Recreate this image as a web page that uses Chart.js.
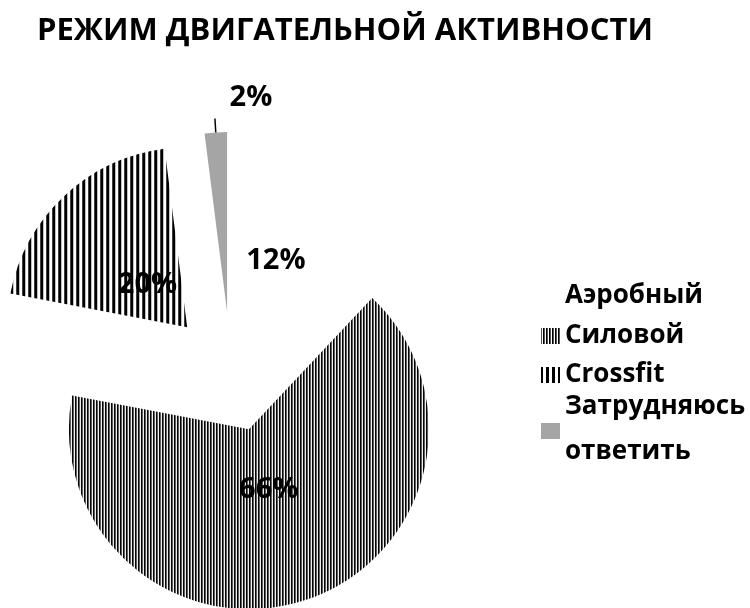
<!DOCTYPE html>
<html>
<head>
<meta charset="utf-8">
<script src="https://cdn.jsdelivr.net/npm/chart.js@4.4.0/dist/chart.umd.min.js"></script>
<style>
  html, body { margin: 0; padding: 0; background: #fff; }
</style>
</head>
<body>
<canvas id="chart" width="750" height="608"></canvas>
<script>
const titleText = 'РЕЖИМ ДВИГАТЕЛЬНОЙ АКТИВНОСТИ';
const categories = ['Аэробный', 'Силовой', 'Crossfit', 'Затрудняюсь ответить'];
const shares = [12, 66, 20, 2];

// stripe fills like the Excel pattern fills
const makeStripes = (period, parts) => {
  const c = document.createElement('canvas');
  c.width = period;
  c.height = 4;
  const g = c.getContext('2d');
  let x = 0;
  parts.forEach(([w, col]) => {
    g.fillStyle = col;
    g.fillRect(x, 0, w, 4);
    x += w;
  });
  return g.createPattern(c, 'repeat');
};
const ctx = document.getElementById('chart').getContext('2d');
const denseStripes = makeStripes(3, [[1, '#000'], [1, '#555'], [1, '#fff']]);
const wideStripes = makeStripes(6, [[3, '#000'], [3, '#fff']]);
const sliceColors = ['#ffffff', denseStripes, wideStripes, '#a5a5a5'];
// how far each slice is pulled out of the pie, px
const explode = [0, 58, 64, 62];

// chart.js' own offset also grows the radius, so pull slices out here instead
const explodedSlices = {
  id: 'explodedSlices',
  beforeDatasetDraw(chart, args) {
    const c = chart.ctx;
    args.meta.data.forEach((arc, i) => {
      const mid = (arc.startAngle + arc.endAngle) / 2;
      c.save();
      c.translate(Math.cos(mid) * explode[i], Math.sin(mid) * explode[i]);
      arc.draw(c);
      c.restore();
    });
    return false;
  }
};

const sliceLabels = {
  id: 'sliceLabels',
  afterDatasetsDraw(chart) {
    const c = chart.ctx;
    const meta = chart.getDatasetMeta(0);
    c.save();
    c.font = 'bold 29px "Open Sans"';
    c.fillStyle = '#000';
    c.textBaseline = 'middle';
    meta.data.forEach((arc, i) => {
      const mid = (arc.startAngle + arc.endAngle) / 2;
      const cos = Math.cos(mid), sin = Math.sin(mid);
      const txt = shares[i] + '%';
      if (i === 3) {
        // small slice: label outside with a short leader
        const r = arc.outerRadius + explode[i];
        c.strokeStyle = '#000';
        c.lineWidth = 1.5;
        c.beginPath();
        c.moveTo(arc.x + cos * r, arc.y + sin * r);
        c.lineTo(arc.x + cos * (r + 14), arc.y + sin * (r + 14));
        c.stroke();
        c.textAlign = 'left';
        c.fillText(txt, arc.x + cos * (r + 35) + 16, arc.y + sin * (r + 35));
      } else {
        c.textAlign = 'center';
        c.fillText(txt, arc.x + cos * 122, arc.y + sin * 122);
      }
    });
    c.restore();
  }
};

// title drawn by hand: the built-in one gets squeezed to the chart width
const chartTitle = {
  id: 'chartTitle',
  afterDraw(chart) {
    const c = chart.ctx;
    c.save();
    c.font = 'bold 31px "Open Sans"';
    c.fillStyle = '#000';
    c.textAlign = 'left';
    c.textBaseline = 'alphabetic';
    c.fillText(titleText, 37, 40);
    c.restore();
  }
};

const sideLegend = {
  id: 'sideLegend',
  afterDraw(chart) {
    const c = chart.ctx;
    const ds = chart.data.datasets[0];
    const rowCenters = [296, 336, 375, 429];
    const lineGap = 45;
    const textX = 565;
    c.save();
    c.font = 'bold 26px "Open Sans"';
    c.fillStyle = '#000';
    c.textBaseline = 'middle';
    c.textAlign = 'left';
    chart.data.labels.forEach((label, i) => {
      // wrap words that do not fit to the right edge
      const lines = [];
      let cur = '';
      label.split(' ').forEach(w => {
        const test = cur ? cur + ' ' + w : w;
        if (cur && c.measureText(test).width > 750 - textX - 4) {
          lines.push(cur);
          cur = w;
        } else cur = test;
      });
      lines.push(cur);
      const yc = rowCenters[i];
      const y0 = yc - (lines.length - 1) * lineGap / 2;
      c.fillStyle = ds.backgroundColor[i];
      c.fillRect(541, yc - 8 + (lines.length > 1 ? 2 : 0), 19, 16);
      c.fillStyle = '#000';
      lines.forEach((ln, k) => c.fillText(ln, textX, y0 + k * lineGap));
    });
    c.restore();
  }
};

new Chart(ctx, {
  type: 'pie',
  data: {
    labels: categories,
    datasets: [{
      data: shares,
      backgroundColor: sliceColors,
      borderWidth: 0,
      radius: 180,
      clip: false,
    }],
  },
  options: {
    responsive: false,
    animation: false,
    layout: { padding: { left: 37, right: 325, top: 140, bottom: 0 } },
    plugins: {
      legend: { display: false },
      tooltip: { enabled: false },
      title: { display: false },
    },
  },
  plugins: [explodedSlices, sliceLabels, chartTitle, sideLegend],
});
</script>
</body>
</html>
